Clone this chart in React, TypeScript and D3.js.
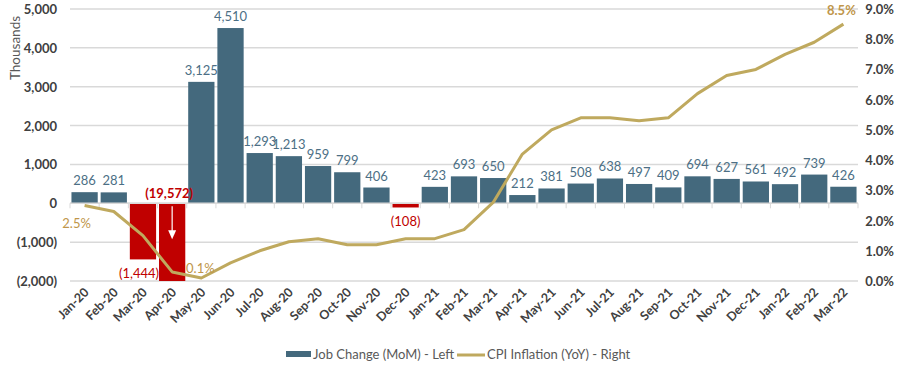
import * as d3 from "d3";

const months = [
  "Jan-20", "Feb-20", "Mar-20", "Apr-20", "May-20", "Jun-20", "Jul-20", "Aug-20", "Sep-20",
  "Oct-20", "Nov-20", "Dec-20", "Jan-21", "Feb-21", "Mar-21", "Apr-21", "May-21", "Jun-21",
  "Jul-21", "Aug-21", "Sep-21", "Oct-21", "Nov-21", "Dec-21", "Jan-22", "Feb-22", "Mar-22",
];
const jobChange = [
  286, 281, -1444, -19572, 3125, 4510, 1293, 1213, 959, 799, 406, -108, 423, 693, 650, 212,
  381, 508, 638, 497, 409, 694, 627, 561, 492, 739, 426,
];
const cpi = [
  2.5, 2.3, 1.5, 0.3, 0.1, 0.6, 1.0, 1.3, 1.4, 1.2, 1.2, 1.4, 1.4, 1.7, 2.6, 4.2, 5.0, 5.4,
  5.4, 5.3, 5.4, 6.2, 6.8, 7.0, 7.5, 7.9, 8.5,
];
const leftTicks = [-2000, -1000, 0, 1000, 2000, 3000, 4000, 5000];
const rightTicks = [0, 1, 2, 3, 4, 5, 6, 7, 8, 9];
const cpiLabelIdx = [0, 4, 26];

export default function App() {
  const width = 900,
    height = 366;
  const left = 70,
    right = 858,
    top = 9,
    bottom = 281;
  const font = "Lato, 'Open Sans', sans-serif";
  const barCol = "#44697d",
    negCol = "#c00000",
    lineCol = "#bfa95e",
    labCol = "#4c6f85",
    cpiLabCol = "#c0964a",
    axisText = "#404040",
    gridCol = "#d9d9d9";

  const x = d3.scaleBand().domain(months).range([left, right]).paddingInner(0.1).paddingOuter(0.05);
  const step = x.step();
  const yL = d3.scaleLinear().domain([-2000, 5000]).range([bottom, top]);
  const yR = d3.scaleLinear().domain([0, 9]).range([bottom, top]);
  const fmt = d3.format(",");
  const numLabel = (v: number) => (v < 0 ? `(${fmt(-v)})` : fmt(v));

  const line = d3
    .line<number>()
    .x((_, i) => x(months[i])! + x.bandwidth() / 2)
    .y((d) => yR(d));

  const aprX = x("Apr-20")! + x.bandwidth() / 2;

  return (
    <svg
      width={width}
      height={height}
      style={{ position: "absolute", left: 0, top: 0, background: "#fff" }}
      fontFamily={font}
    >
      {/* gridlines */}
      {leftTicks.map((t) => (
        <line
          key={t}
          x1={left}
          x2={right}
          y1={yL(t)}
          y2={yL(t)}
          stroke={gridCol}
          strokeWidth={1.5}
        />
      ))}
      {/* left axis labels */}
      {leftTicks.map((t) => (
        <text
          key={t}
          x={57}
          y={yL(t)}
          textAnchor="end"
          dominantBaseline="central"
          fontSize={13}
          fontWeight="bold"
          fill={axisText}
        >
          {numLabel(t)}
        </text>
      ))}
      <text
        transform={`translate(15 48) rotate(-90)`}
        textAnchor="middle"
        dominantBaseline="central"
        fontSize={13.5}
        fill="#595959"
      >
        Thousands
      </text>
      {/* right axis labels */}
      {rightTicks.map((t) => (
        <text
          key={t}
          x={894}
          y={yR(t)}
          textAnchor="end"
          dominantBaseline="central"
          fontSize={13}
          fontWeight="bold"
          fill={axisText}
        >
          {t.toFixed(1)}%
        </text>
      ))}
      {/* bars */}
      {jobChange.map((v, i) => {
        const y0 = yL(0);
        const y1 = yL(clipped(v));
        return (
          <rect
            key={months[i]}
            x={x(months[i])}
            width={x.bandwidth()}
            y={Math.min(y0, y1)}
            height={Math.abs(y1 - y0)}
            fill={v < 0 ? negCol : barCol}
          />
        );
      })}
      {/* zero axis and ticks */}
      <line x1={left} x2={right} y1={yL(0)} y2={yL(0)} stroke={gridCol} strokeWidth={1.5} />
      {d3.range(months.length + 1).map((i) => (
        <line
          key={i}
          x1={left + i * step}
          x2={left + i * step}
          y1={yL(0)}
          y2={yL(0) + 5}
          stroke={gridCol}
          strokeWidth={1}
        />
      ))}
      {/* arrow in Apr-20 bar */}
      <line x1={aprX} x2={aprX} y1={yL(0) + 3} y2={yL(0) + 30} stroke="#fff" strokeWidth={1.2} />
      <path
        d={`M${aprX - 4},${yL(0) + 27} L${aprX + 4},${yL(0) + 27} L${aprX},${yL(0) + 36} Z`}
        fill="#fff"
      />
      {/* CPI line */}
      <path d={line(cpi)!} fill="none" stroke={lineCol} strokeWidth={3} strokeLinejoin="round" />
      {/* bar labels */}
      {jobChange.map((v, i) => {
        const cx = x(months[i])! + x.bandwidth() / 2;
        if (v === -19572) {
          return (
            <text
              key={i}
              x={cx - 3}
              y={yL(0) - 5}
              textAnchor="middle"
              fontSize={13}
              fontWeight="bold"
              fill={negCol}
            >
              {numLabel(v)}
            </text>
          );
        }
        if (v < 0) {
          return (
            <text
              key={i}
              x={v === -1444 ? cx - 4 : cx}
              y={yL(clipped(v)) + 19}
              textAnchor="middle"
              fontSize={13}
              fill={negCol}
            >
              {numLabel(v)}
            </text>
          );
        }
        return (
          <text key={i} x={cx} y={yL(v) - 7} textAnchor="middle" fontSize={13} fill={labCol}>
            {numLabel(v)}
          </text>
        );
      })}
      {/* CPI labels */}
      {cpiLabelIdx.map((i) => {
        const cx = x(months[i])! + x.bandwidth() / 2;
        const cy = yR(cpi[i]);
        const pos =
          i === 0
            ? { x: cx - 8, y: cy + 23 }
            : i === 4
            ? { x: cx - 1, y: cy - 5 }
            : { x: cx - 2, y: cy - 9 };
        return (
          <text
            key={i}
            x={pos.x}
            y={pos.y}
            textAnchor="middle"
            fontSize={13}
            fontWeight={i === 26 ? "bold" : "normal"}
            fill={cpiLabCol}
          >
            {cpi[i].toFixed(1)}%
          </text>
        );
      })}
      {/* x labels */}
      {months.map((m) => (
        <text
          key={m}
          transform={`translate(${x(m)! + x.bandwidth() / 2 + 5} ${293}) rotate(-45)`}
          textAnchor="end"
          fontSize={12.5}
          fontWeight="bold"
          fill={axisText}
        >
          {m}
        </text>
      ))}
      {/* legend */}
      <rect x={286} y={351} width={25} height={6} fill={barCol} />
      <text x={313} y={354} dominantBaseline="central" fontSize={13} fill="#595959">
        Job Change (MoM) - Left
      </text>
      <line x1={457} x2={485} y1={355} y2={355} stroke={lineCol} strokeWidth={3} />
      <text x={487} y={354} dominantBaseline="central" fontSize={13} fill="#595959">
        CPI Inflation (YoY) - Right
      </text>
    </svg>
  );
}

function clipped(v: number) {
  return Math.max(v, -2000);
}
